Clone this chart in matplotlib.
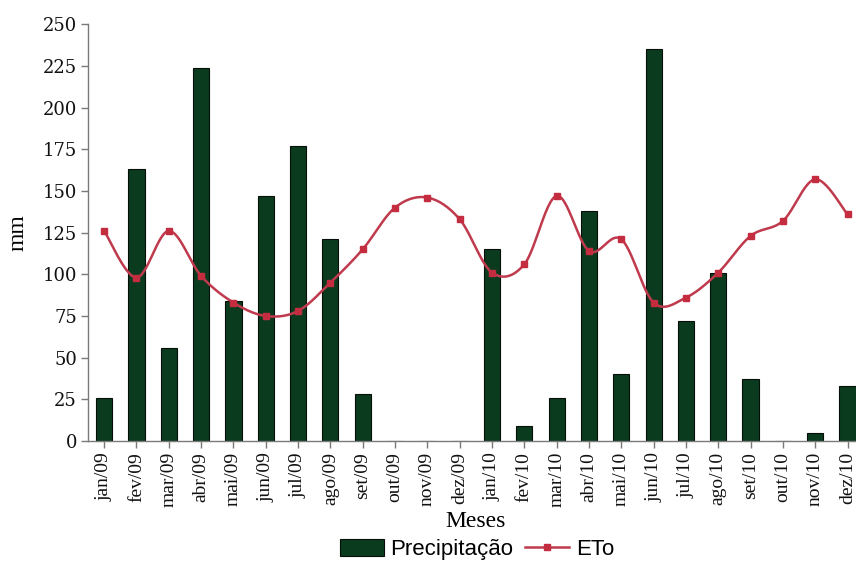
import numpy as np
import matplotlib
matplotlib.use("Agg")
import matplotlib.pyplot as plt
from matplotlib.lines import Line2D
from matplotlib.patches import Patch

meses = ["jan/09", "fev/09", "mar/09", "abr/09", "mai/09", "jun/09", "jul/09",
         "ago/09", "set/09", "out/09", "nov/09", "dez/09",
         "jan/10", "fev/10", "mar/10", "abr/10", "mai/10", "jun/10", "jul/10",
         "ago/10", "set/10", "out/10", "nov/10", "dez/10"]

precipitacao = [26, 163, 56, 224, 84, 147, 177, 121, 28, 0, 0, 0,
                115, 9, 26, 138, 40, 235, 72, 101, 37, 0, 5, 33]

eto = [126, 98, 126, 99, 83, 75, 78, 95, 115, 140, 146, 133,
       101, 106, 147, 114, 121, 83, 86, 101, 123, 132, 157, 136]

bar_color = "#0b3b1f"
line_color = "#bf3a4c"


def smooth_curve(x, y, n=30):
    """Catmull-Rom style Bezier smoothing through every point."""
    x = np.asarray(x, float)
    y = np.asarray(y, float)
    xs, ys = [], []
    t = np.linspace(0, 1, n)
    for i in range(len(x) - 1):
        p0 = np.array([x[max(i - 1, 0)], y[max(i - 1, 0)]])
        p1 = np.array([x[i], y[i]])
        p2 = np.array([x[i + 1], y[i + 1]])
        p3 = np.array([x[min(i + 2, len(x) - 1)], y[min(i + 2, len(x) - 1)]])
        c1 = p1 + (p2 - p0) / 6.0
        c2 = p2 - (p3 - p1) / 6.0
        pts = ((1 - t) ** 3)[:, None] * p1 + (3 * (1 - t) ** 2 * t)[:, None] * c1 \
            + (3 * (1 - t) * t ** 2)[:, None] * c2 + (t ** 3)[:, None] * p2
        xs.extend(pts[:, 0])
        ys.extend(pts[:, 1])
    return np.array(xs), np.array(ys)


fig = plt.figure(figsize=(8.56, 5.63), dpi=100)
ax = fig.add_axes([0.1028, 0.2167, 0.9062, 0.7403])

x = np.arange(len(meses))
ax.bar(x, precipitacao, width=0.5, color=bar_color, edgecolor="#050f08",
       linewidth=0.8, zorder=2)

sx, sy = smooth_curve(x, eto)
ax.plot(sx, sy, color=line_color, linewidth=1.8, zorder=3)
ax.plot(x, eto, linestyle="none", marker="s", markersize=5,
        color="#c42c40", zorder=4)

ax.set_xlim(-0.5, len(meses) - 0.5)
ax.set_ylim(0, 250)
ax.set_yticks(np.arange(0, 251, 25))
ax.set_xticks(x)
ax.set_xticklabels(meses, rotation=90, family="Liberation Serif", fontsize=14)
for lab in ax.get_yticklabels():
    lab.set_family("DejaVu Serif")
    lab.set_fontsize(13)

for side in ("top", "right"):
    ax.spines[side].set_visible(False)
for side in ("left", "bottom"):
    ax.spines[side].set_color("#7a7a7a")
    ax.spines[side].set_linewidth(1.0)
ax.tick_params(axis="both", direction="out", length=5, width=1.0,
               color="#7a7a7a", labelcolor="#111111", pad=3)

ax.set_ylabel("mm", family="Liberation Serif", fontsize=17, labelpad=10)
ax.set_xlabel("Meses", family="Liberation Serif", fontsize=17)
ax.xaxis.set_label_coords(0.5, -0.168)

handles = [Patch(facecolor=bar_color, edgecolor="#050f08", linewidth=0.8),
           Line2D([], [], color=line_color, linewidth=1.8, marker="s",
                  markersize=4, markerfacecolor="#c42c40",
                  markeredgecolor="#c42c40")]
fig.legend(handles, ["Precipitação", "ETo"], loc="center",
           bbox_to_anchor=(0.557, 0.024), ncol=2, frameon=False,
           prop={"family": "Liberation Sans", "size": 16},
           handlelength=2.0, handleheight=0.8, handletextpad=0.3,
           columnspacing=0.5, borderpad=0.1)

fig.savefig("out.png", dpi=100)
